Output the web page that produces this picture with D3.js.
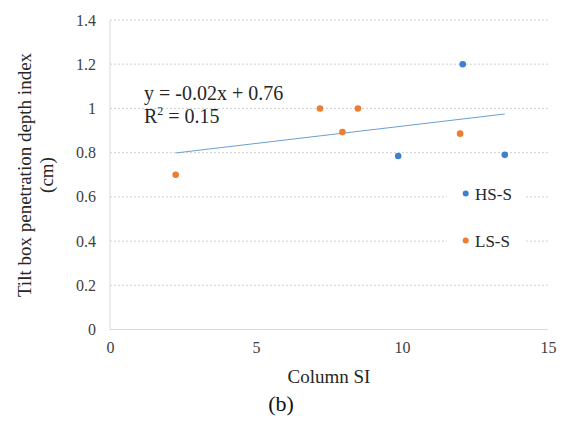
<!DOCTYPE html>
<html><head><meta charset="utf-8">
<script src="https://cdn.jsdelivr.net/npm/d3@7"></script>
</head><body style="margin:0">
<svg id="c" width="564" height="423">
<text x="281" y="411" text-anchor="middle" font-family="Liberation Serif" font-size="22" fill="#111">(b)</text>
</svg>
<script>
const hsX = [12.08, 9.87, 13.52];
const hsY = [1.20, 0.785, 0.79];
const lsX = [2.25, 7.19, 8.49, 7.96, 11.99];
const lsY = [0.70, 1.00, 1.00, 0.893, 0.886];
const xTicks = [0, 5, 10, 15];
const yTicks = [0, 0.2, 0.4, 0.6, 0.8, 1, 1.2, 1.4];
const eqText = "y = -0.02x + 0.76";
const r2Text = "= 0.15";
const seriesNames = ["HS-S", "LS-S"];
const colors = ["#3f7fcf", "#ed7d31"];

const svg = d3.select("#c");
const font = "Liberation Serif";
const x = d3.scaleLinear().domain([0, 15]).range([110, 548]);
const y = d3.scaleLinear().domain([0, 1.4]).range([329.5, 20]);

// gridlines
svg.append("g").selectAll("line").data(yTicks.filter(d => d > 0)).join("line")
  .attr("x1", x(0)).attr("x2", x(15)).attr("y1", d => y(d)).attr("y2", d => y(d))
  .attr("stroke", "#d0d0d0").attr("stroke-width", 1).attr("stroke-dasharray", "2,2");

// axes lines
svg.append("line").attr("x1", x(0)).attr("x2", x(0)).attr("y1", y(1.4)).attr("y2", y(0))
  .attr("stroke", "#d9d9d9");
svg.append("line").attr("x1", x(0)).attr("x2", x(15)).attr("y1", y(0)).attr("y2", y(0))
  .attr("stroke", "#d9d9d9");

// y axis
const yAxis = d3.axisLeft(y).tickValues(yTicks).tickFormat(d => String(d)).tickSize(0).tickPadding(14);
const gy = svg.append("g").attr("transform", `translate(${x(0)},0)`).call(yAxis);
gy.attr("font-family", font).attr("font-size", 16);
gy.select(".domain").remove();
gy.selectAll("text").attr("fill", "#404040");

// x axis
const xAxis = d3.axisBottom(x).tickValues(xTicks).tickFormat(d => String(d)).tickSize(0).tickPadding(12);
const gx = svg.append("g").attr("transform", `translate(0,${y(0)})`).call(xAxis);
gx.attr("font-family", font).attr("font-size", 16);
gx.select(".domain").remove();
gx.selectAll("text").attr("fill", "#404040");

// trendline (linear regression over all points)
const allX = hsX.concat(lsX), allY = hsY.concat(lsY);
const mx = d3.mean(allX), my = d3.mean(allY);
const slope = d3.sum(allX.map((v, i) => (v - mx) * (allY[i] - my))) / d3.sum(allX.map(v => (v - mx) ** 2));
const icpt = my - slope * mx;
const x0 = d3.min(allX), x1 = d3.max(allX);
svg.append("line").attr("x1", x(x0)).attr("y1", y(icpt + slope * x0))
  .attr("x2", x(x1)).attr("y2", y(icpt + slope * x1))
  .attr("stroke", "#6a9fd0").attr("stroke-width", 1);

// legend background
svg.append("rect").attr("x", 447).attr("y", 175).attr("width", 78).attr("height", 80).attr("fill", "#fff");

// points
function pts(xs, ys, c) {
  svg.append("g").selectAll("circle").data(xs.map((v, i) => [v, ys[i]])).join("circle")
    .attr("cx", d => x(d[0])).attr("cy", d => y(d[1])).attr("r", 3.3).attr("fill", c);
}
pts(hsX, hsY, colors[0]);
pts(lsX, lsY, colors[1]);

// legend
seriesNames.forEach((n, i) => {
  const ly = 193.5 + i * 47;
  svg.append("circle").attr("cx", 465.7).attr("cy", ly).attr("r", 3).attr("fill", colors[i]);
  svg.append("text").attr("x", 475).attr("y", ly + 6.5).text(n)
    .attr("font-family", font).attr("font-size", 17).attr("fill", "#262626");
});

// equation
svg.append("text").attr("x", 144).attr("y", 100).text(eqText)
  .attr("font-family", font).attr("font-size", 20).attr("fill", "#262626");
const r2 = svg.append("text").attr("x", 144).attr("y", 123)
  .attr("font-family", font).attr("font-size", 20).attr("fill", "#262626");
r2.append("tspan").text("R");
r2.append("tspan").text("2").attr("font-size", 12).attr("dy", -8);
r2.append("tspan").text(" " + r2Text).attr("dy", 8);

// axis titles
svg.append("text").attr("x", x(7.5)).attr("y", 383).attr("text-anchor", "middle").text("Column SI")
  .attr("font-family", font).attr("font-size", 19).attr("fill", "#262626");
svg.append("text").attr("transform", "translate(31,175) rotate(-90)").attr("text-anchor", "middle")
  .text("Tilt box penetration depth index").attr("font-family", font).attr("font-size", 19).attr("fill", "#262626");
svg.append("text").attr("transform", "translate(53,175) rotate(-90)").attr("text-anchor", "middle")
  .text("(cm)").attr("font-family", font).attr("font-size", 19).attr("fill", "#262626");
</script>
</body></html>
